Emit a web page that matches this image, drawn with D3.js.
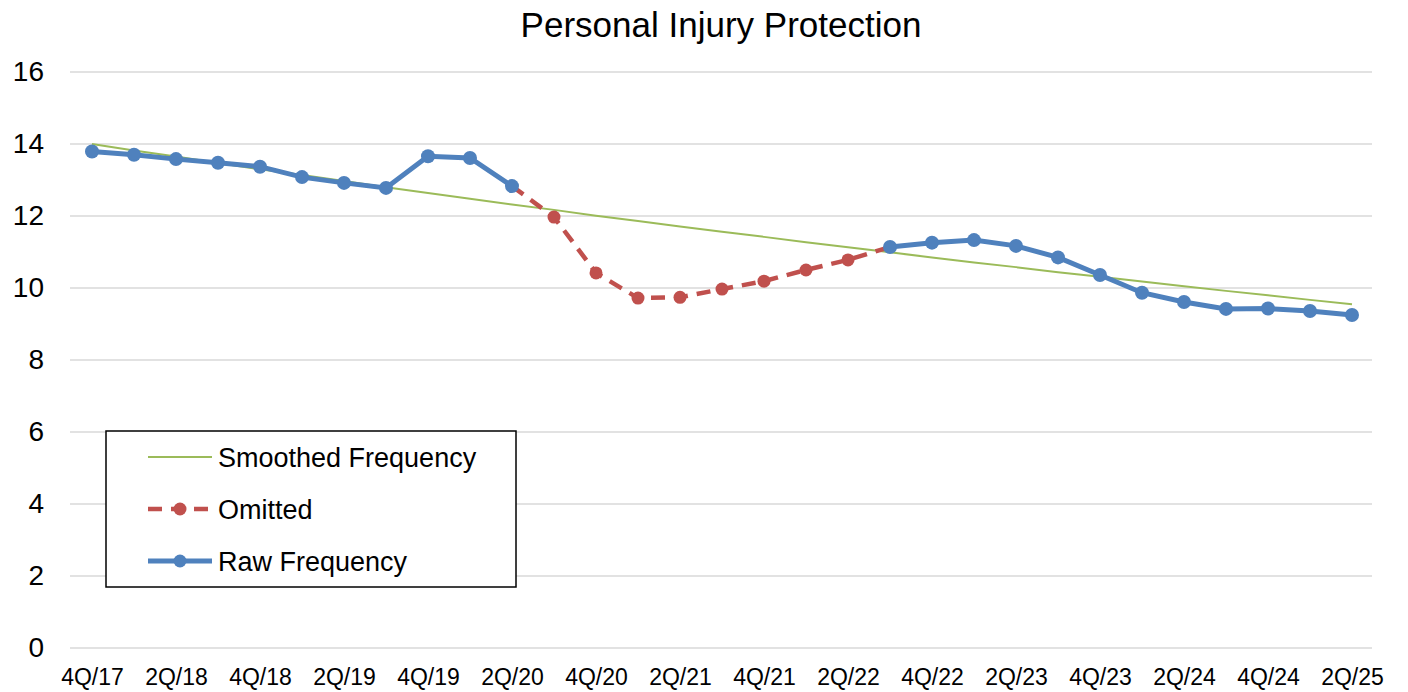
<!DOCTYPE html>
<html>
<head>
<meta charset="utf-8">
<script src="https://cdn.jsdelivr.net/npm/d3@7"></script>
<style>
  body { margin: 0; background: #fff; }
  svg { font-family: "Liberation Sans", Arial, sans-serif; }
</style>
</head>
<body>
<svg id="chart"></svg>
<script>
// data
var quarters = ['4Q/17', '1Q/18', '2Q/18', '3Q/18', '4Q/18', '1Q/19', '2Q/19', '3Q/19',
    '4Q/19', '1Q/20', '2Q/20', '3Q/20', '4Q/20', '1Q/21', '2Q/21', '3Q/21', '4Q/21',
    '1Q/22', '2Q/22', '3Q/22', '4Q/22', '1Q/23', '2Q/23', '3Q/23', '4Q/23', '1Q/24',
    '2Q/24', '3Q/24', '4Q/24', '1Q/25', '2Q/25'];

var rawFreq = [13.79, 13.70, 13.58, 13.48, 13.37, 13.08, 12.92, 12.78, 13.66, 13.61, 12.83,
    null, null, null, null, null, null, null, null,
    11.14, 11.26, 11.33, 11.17, 10.85, 10.36, 9.87, 9.61, 9.42, 9.43, 9.36, 9.25];

var omitted = [null, null, null, null, null, null, null, null, null, null, null,
    11.97, 10.42, 9.72, 9.74, 9.97, 10.19, 10.50, 10.78,
    null, null, null, null, null, null, null, null, null, null, null, null];

var smoothed = [14.00, 13.82, 13.65, 13.47, 13.30, 13.14, 12.97, 12.80, 12.64, 12.48, 12.32,
    12.17, 12.01, 11.86, 11.71, 11.56, 11.42, 11.27, 11.13, 10.99, 10.85, 10.71,
    10.58, 10.44, 10.31, 10.18, 10.05, 9.92, 9.80, 9.67, 9.55];

var yTicks = [0, 2, 4, 6, 8, 10, 12, 14, 16];

var svgWidth = 1408;
var svgHeight = 692;

var svg = d3.select('#chart')
    .attr('width', svgWidth)
    .attr('height', svgHeight);

var xScale = d3.scalePoint()
    .domain(quarters)
    .range([92, 1352]);

var yScale = d3.scaleLinear()
    .domain([0, 16])
    .range([648, 72]);

// title
svg.append('text')
    .attr('x', 721)
    .attr('y', 37)
    .attr('text-anchor', 'middle')
    .attr('font-size', 35)
    .attr('fill', '#000')
    .text('Personal Injury Protection');

// gridlines
svg.append('g')
    .selectAll('line')
    .data(yTicks)
    .enter()
    .append('line')
    .attr('x1', 70)
    .attr('x2', 1372)
    .attr('y1', function (d) { return yScale(d); })
    .attr('y2', function (d) { return yScale(d); })
    .attr('stroke', '#d9d9d9')
    .attr('stroke-width', 1.5);

// y axis
var yAxis = d3.axisLeft(yScale).tickValues(yTicks).tickSize(0).tickPadding(0);
var yg = svg.append('g')
    .attr('transform', 'translate(44,0)')
    .call(yAxis);
yg.select('.domain').remove();
yg.selectAll('text')
    .attr('font-size', 28)
    .attr('font-family', '"Liberation Sans", Arial, sans-serif')
    .attr('fill', '#000');

// x axis
var xAxis = d3.axisBottom(xScale)
    .tickValues(quarters.filter(function (d, i) { return i % 2 === 0; }))
    .tickSize(0)
    .tickPadding(0);
var xg = svg.append('g')
    .attr('transform', 'translate(0,669)')
    .call(xAxis);
xg.select('.domain').remove();
xg.selectAll('text')
    .attr('font-size', 23)
    .attr('font-family', '"Liberation Sans", Arial, sans-serif')
    .attr('fill', '#000');

var idx = d3.range(quarters.length);

// smoothed frequency
var smoothLine = d3.line()
    .x(function (i) { return xScale(quarters[i]); })
    .y(function (i) { return yScale(smoothed[i]); });

svg.append('path')
    .attr('d', smoothLine(idx))
    .attr('fill', 'none')
    .attr('stroke', '#9bbb59')
    .attr('stroke-width', 2);

// omitted: joins the raw points on each side
var omitIdx = idx.filter(function (i) {
    return omitted[i] != null || omitted[i - 1] != null || omitted[i + 1] != null;
});
var omitVal = function (i) { return omitted[i] != null ? omitted[i] : rawFreq[i]; };

var omitLine = d3.line()
    .x(function (i) { return xScale(quarters[i]); })
    .y(function (i) { return yScale(omitVal(i)); });

svg.append('path')
    .attr('d', omitLine(omitIdx))
    .attr('fill', 'none')
    .attr('stroke', '#c0504d')
    .attr('stroke-width', 4.5)
    .attr('stroke-dasharray', '14,9');

svg.append('g')
    .selectAll('circle')
    .data(idx.filter(function (i) { return omitted[i] != null; }))
    .enter()
    .append('circle')
    .attr('cx', function (i) { return xScale(quarters[i]); })
    .attr('cy', function (i) { return yScale(omitted[i]); })
    .attr('r', 6.5)
    .attr('fill', '#c0504d');

// raw frequency
var rawLine = d3.line()
    .defined(function (i) { return rawFreq[i] != null; })
    .x(function (i) { return xScale(quarters[i]); })
    .y(function (i) { return yScale(rawFreq[i]); });

svg.append('path')
    .attr('d', rawLine(idx))
    .attr('fill', 'none')
    .attr('stroke', '#4f81bd')
    .attr('stroke-width', 5);

svg.append('g')
    .selectAll('circle')
    .data(idx.filter(function (i) { return rawFreq[i] != null; }))
    .enter()
    .append('circle')
    .attr('cx', function (i) { return xScale(quarters[i]); })
    .attr('cy', function (i) { return yScale(rawFreq[i]); })
    .attr('r', 7)
    .attr('fill', '#4f81bd');

// legend
var legend = svg.append('g');
legend.append('rect')
    .attr('x', 106)
    .attr('y', 431)
    .attr('width', 410)
    .attr('height', 156)
    .attr('fill', '#fff')
    .attr('stroke', '#000')
    .attr('stroke-width', 1.5);

var legendItems = [
    { label: 'Smoothed Frequency', color: '#9bbb59', width: 2, dash: null, marker: false },
    { label: 'Omitted', color: '#c0504d', width: 4.5, dash: '14,9', marker: true },
    { label: 'Raw Frequency', color: '#4f81bd', width: 5, dash: null, marker: true }
];

legendItems.forEach(function (d, i) {
    var y = 457 + i * 52;
    var g = legend.append('g');
    g.append('line')
        .attr('x1', 148)
        .attr('x2', 212)
        .attr('y1', y)
        .attr('y2', y)
        .attr('stroke', d.color)
        .attr('stroke-width', d.width)
        .attr('stroke-dasharray', d.dash);
    if (d.marker) {
        g.append('circle')
            .attr('cx', 180)
            .attr('cy', y)
            .attr('r', 6.5)
            .attr('fill', d.color);
    }
    g.append('text')
        .attr('x', 218)
        .attr('y', y + 10)
        .attr('font-size', 27)
        .attr('fill', '#000')
        .text(d.label);
});
</script>
</body>
</html>
